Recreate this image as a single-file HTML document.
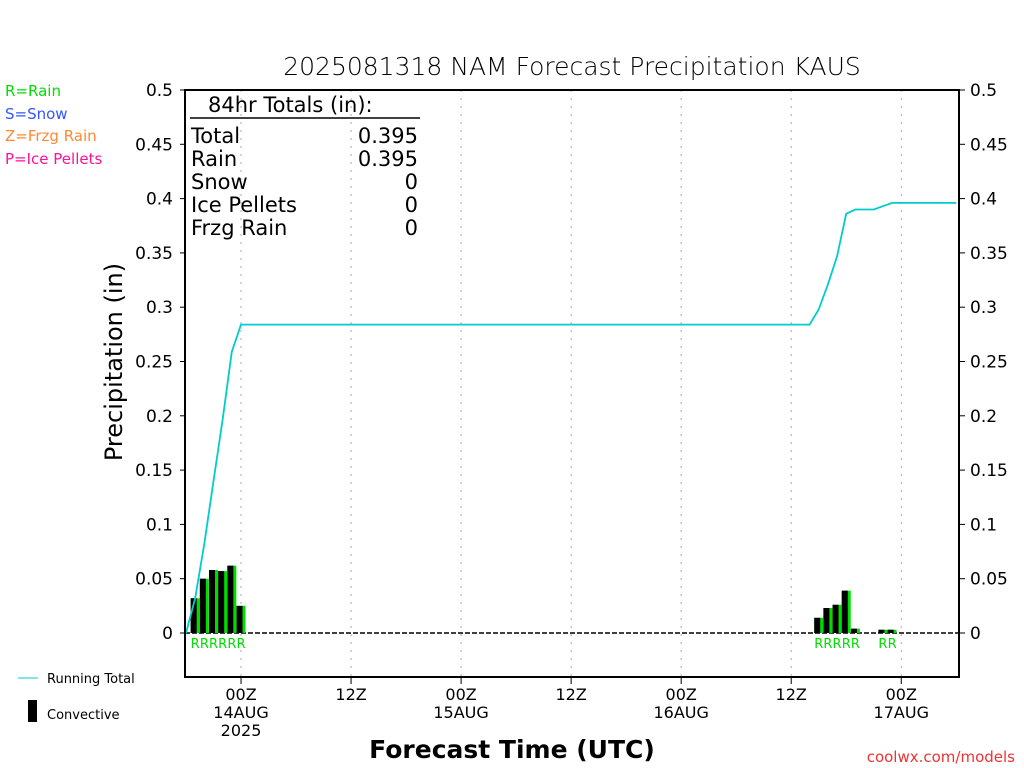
<!DOCTYPE html>
<html><head><meta charset="utf-8"><style>
body{margin:0;background:#fff;}
svg{display:block;font-family:"DejaVu Sans","Liberation Sans",sans-serif;}
</style></head><body>
<svg id="c" width="1024" height="768" xmlns="http://www.w3.org/2000/svg">
<text x="572" y="75" font-size="25" text-anchor="middle" font-family="DejaVu Sans,sans-serif" font-weight="300">2025081318 NAM Forecast Precipitation KAUS</text>
<g font-size="15">
<text x="5" y="96" fill="#00dd00">R=Rain</text>
<text x="5" y="119" fill="#3355ff">S=Snow</text>
<text x="5" y="141" fill="#ff8833">Z=Frzg Rain</text>
<text x="5" y="164" fill="#ff1199">P=Ice Pellets</text>
</g>
<text transform="translate(122,362) rotate(-90)" font-size="24" text-anchor="middle">Precipitation (in)</text>
<text x="512" y="758" font-size="25" text-anchor="middle" font-weight="bold">Forecast Time (UTC)</text>
<text x="1015" y="762" font-size="15" fill="#ee3333" text-anchor="end">coolwx.com/models</text>
<line x1="18" y1="678" x2="38" y2="678" stroke="#00cccc"/>
<text x="47" y="683" font-size="13">Running Total</text>
<rect x="28" y="700" width="9" height="22" fill="#000"/>
<text x="47" y="719" font-size="13">Convective</text>
<g id="grid"></g>
<g id="axes" font-size="17"></g>
<g id="marks"></g>
<g font-size="21">
<text x="208" y="112">84hr Totals (in):</text>
<line x1="190" y1="118" x2="420" y2="118" stroke="#000" stroke-width="1.5"/>
<text x="191" y="143">Total</text><text x="418" y="143" text-anchor="end">0.395</text>
<text x="191" y="166">Rain</text><text x="418" y="166" text-anchor="end">0.395</text>
<text x="191" y="189">Snow</text><text x="418" y="189" text-anchor="end">0</text>
<text x="191" y="212">Ice Pellets</text><text x="418" y="212" text-anchor="end">0</text>
<text x="191" y="235">Frzg Rain</text><text x="418" y="235" text-anchor="end">0</text>
</g>
<rect x="185" y="90" width="774" height="587" fill="none" stroke="#000" stroke-width="2"/>
</svg>
<script>
const barHours=[1,2,3,4,5,6,69,70,71,72,73,76,77];
const barValues=[0.032,0.050,0.058,0.057,0.062,0.025,0.014,0.023,0.026,0.039,0.004,0.003,0.003];
const convValues=[0.032,0.050,0.058,0.057,0.062,0.025,0.014,0.023,0.026,0.039,0.004,0.003,0.003];
const yTicks=[0,0.05,0.1,0.15,0.2,0.25,0.3,0.35,0.4,0.45,0.5];
const yTickLabels=["0","0.05","0.1","0.15","0.2","0.25","0.3","0.35","0.4","0.45","0.5"];
const xTickHours=[6,18,30,42,54,66,78];
const xTickLabels=[["00Z","14AUG","2025"],["12Z"],["00Z","15AUG"],["12Z"],["00Z","16AUG"],["12Z"],["00Z","17AUG"]];
const maxHour=84;
const X=h=>186+h*9.17, Y=v=>633-v*1086;
const NS="http://www.w3.org/2000/svg";
function mk(parent,tag,attrs){const e=document.createElementNS(NS,tag);for(const k in attrs)e.setAttribute(k,attrs[k]);document.getElementById(parent).appendChild(e);return e;}
yTicks.forEach((v,i)=>{
 let t=mk('axes','line',{x1:180,x2:185,y1:Y(v),y2:Y(v),stroke:'#000'});
 
 
 let t2=mk('axes','line',{x1:959,x2:965,y1:Y(v),y2:Y(v),stroke:'#000'});
 
 
 let l=mk('axes','text',{x:173,y:Y(v)+6,'text-anchor':'end'});l.textContent=yTickLabels[i];
 
 
 let r=mk('axes','text',{x:970,y:Y(v)+6});r.textContent=yTickLabels[i];
 
 
});
xTickHours.forEach((h,i)=>{
 let g=mk('grid','line',{x1:X(h),x2:X(h),y1:90,y2:677,stroke:'#aaa','stroke-dasharray':'2,6'});
 
 
 let t=mk('axes','line',{x1:X(h),x2:X(h),y1:677,y2:684,stroke:'#000'});
 
 
 xTickLabels[i].forEach((s,j)=>{
  let l=mk('axes','text',{x:X(h),y:700+j*18,'text-anchor':'middle','font-size':16});l.textContent=s;
  
  
 });
});
let z=mk('marks','line',{x1:185,x2:959,y1:Y(0),y2:Y(0),stroke:'#000','stroke-dasharray':'5,2','stroke-width':1.5});


barHours.forEach((h,i)=>{
 let b=mk('marks','rect',{x:X(h)-4.5,y:Y(barValues[i]),width:9,height:Y(0)-Y(barValues[i]),fill:'#00dd00'});
 
 
 let c=mk('marks','rect',{x:X(h)-4.5,y:Y(convValues[i]),width:6,height:Y(0)-Y(convValues[i]),fill:'#000'});
 
 
 let r=mk('marks','text',{x:X(h),y:648,'text-anchor':'middle','font-size':13,fill:'#00dd00'});r.textContent='R';
 
 
});
let pts=[],cum=0;
for(let h=0;h<=maxHour;h++){const i=barHours.indexOf(h);if(i>=0)cum+=barValues[i];pts.push(X(h).toFixed(1)+','+Y(cum).toFixed(1));}
let pl=mk('marks','polyline',{points:pts.join(' '),fill:'none',stroke:'#00cccc','stroke-width':1.8});


</script>
</body></html>
